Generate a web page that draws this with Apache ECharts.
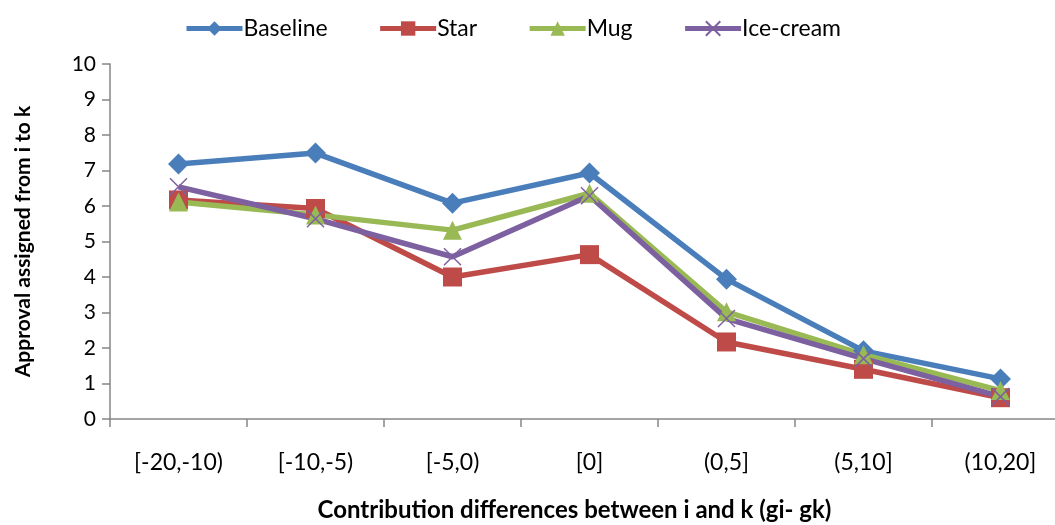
<!DOCTYPE html>
<html>
<head>
<meta charset="utf-8">
<script src="https://cdn.jsdelivr.net/npm/echarts@6/dist/echarts.min.js"></script>
<style>
html,body{margin:0;padding:0;background:#fff;}
#chart{width:1055px;height:525px;}
</style>
</head>
<body>
<div id="chart"></div>
<script>
// Contribution-difference bins between agents i and k
const categories = ['[-20,-10)', '[-10,-5)', '[-5,0)', '[0]', '(0,5]', '(5,10]', '(10,20]'];

// Mean approval assigned from i to k, per treatment
const baseline = [7.18, 7.49, 6.08, 6.93, 3.94, 1.92, 1.13];
const star     = [6.17, 5.93, 4.00, 4.63, 2.17, 1.40, 0.60];
const mug      = [6.11, 5.75, 5.32, 6.36, 3.02, 1.81, 0.80];
const iceCream = [6.54, 5.64, 4.57, 6.29, 2.83, 1.70, 0.63];

const FONT = 'Lato, "Open Sans", sans-serif';
const AXIS_GRAY = '#868686';
const CROSS = 'path://M0,0L10,10M10,0L0,10';

function lineSeries(name, data, color, symbol, size, extra) {
  return Object.assign({
    name: name,
    type: 'line',
    data: data,
    symbol: symbol,
    symbolSize: size,
    lineStyle: { color: color, width: 5.5 },
    itemStyle: { color: color },
    emphasis: { disabled: true },
    z: 2
  }, extra || {});
}

const chart = echarts.init(document.getElementById('chart'), null, { renderer: 'canvas' });
chart.setOption({
  animation: false,
  textStyle: { fontFamily: FONT },
  legend: {
    top: 12,
    left: 179,
    itemWidth: 56,
    itemHeight: 18,
    itemGap: 50,
    lineStyle: { width: 5 },
    textStyle: { fontSize: 23, color: '#000', fontFamily: FONT, padding: [0, 0, 0, -4] },
    data: ['Baseline', 'Star', 'Mug', 'Ice-cream']
  },
  grid: { left: 110, right: -14, top: 64, bottom: 106, containLabel: false, outerBoundsMode: 'none' },
  xAxis: {
    type: 'category',
    data: categories,
    boundaryGap: true,
    name: 'Contribution differences between i and k (gi- gk)',
    nameLocation: 'middle',
    nameGap: 79,
    nameTextStyle: { fontSize: 24, fontWeight: 'bold', color: '#000', fontFamily: FONT, padding: [0, 0, 0, -30] },
    axisLine: { lineStyle: { color: AXIS_GRAY, width: 1.5 } },
    axisTick: { show: true, length: 8, alignWithLabel: false, lineStyle: { color: AXIS_GRAY, width: 1.5 } },
    axisLabel: { fontSize: 23, color: '#000', margin: 32, fontFamily: FONT },
    splitLine: { show: false }
  },
  yAxis: {
    type: 'value',
    min: 0,
    max: 10,
    interval: 1,
    name: 'Approval assigned from i to k',
    nameLocation: 'middle',
    nameGap: 76,
    nameTextStyle: { fontSize: 21, fontWeight: 'bold', color: '#000', fontFamily: FONT },
    axisLine: { show: true, lineStyle: { color: AXIS_GRAY, width: 1.5 } },
    axisTick: { show: true, length: 8, lineStyle: { color: AXIS_GRAY, width: 1.5 } },
    axisLabel: { fontSize: 21, color: '#000', margin: 14, fontFamily: FONT },
    splitLine: { show: false }
  },
  series: [
    lineSeries('Baseline', baseline, '#4a7ebb', 'diamond', 21),
    lineSeries('Star', star, '#be4b48', 'rect', 19),
    lineSeries('Mug', mug, '#98b954', 'triangle', 19),
    lineSeries('Ice-cream', iceCream, '#7d60a0', CROSS, 17, {
      itemStyle: { color: '#7d60a0', borderColor: '#7d60a0', borderWidth: 1.5 }
    })
  ]
});
</script>
</body>
</html>
